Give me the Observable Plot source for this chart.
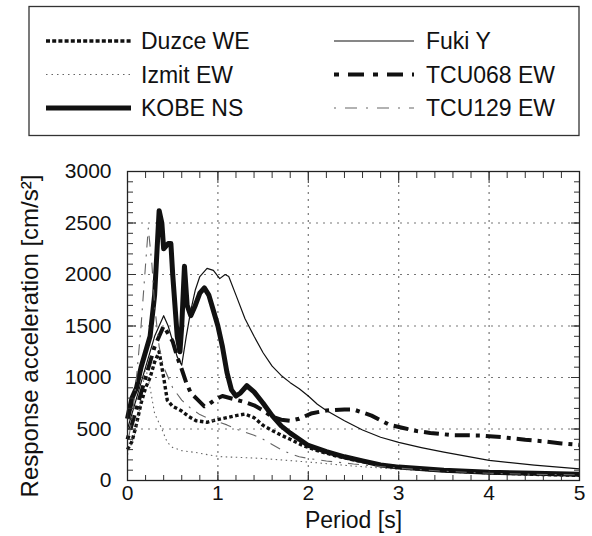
<!DOCTYPE html>
<html><head><meta charset="utf-8">
<script src="https://cdn.jsdelivr.net/npm/d3@7"></script>
<script src="https://cdn.jsdelivr.net/npm/@observablehq/plot@0.6"></script>
<style>
body{margin:0;background:#fff;}
#wrap{position:relative;width:592px;height:536px;font-family:"Liberation Sans",Arial,sans-serif;}
#legend{position:absolute;left:0;top:0;}
#chart{position:absolute;left:0;top:150px;}
</style></head><body>
<div id="wrap"><svg id="legend" width="592" height="150"></svg><div id="chart"></div></div>
<script>
// ---- data (period [s], response acceleration [cm/s2]) ----
const seriesNames = ["Duzce WE", "Izmit EW", "KOBE NS", "Fuki Y", "TCU068 EW", "TCU129 EW"];
const duzceWE = [[0,300],[0.05,380],[0.1,550],[0.15,750],[0.2,900],[0.25,1000],[0.3,1150],[0.35,1250],[0.4,1000],[0.44,780],[0.5,720],[0.59,680],[0.68,620],[0.76,580],[0.88,565],[0.99,590],[1.1,610],[1.2,630],[1.3,645],[1.4,610],[1.5,535],[1.6,485],[1.7,440],[1.8,400],[1.94,340],[2.1,290],[2.3,240],[2.5,200],[2.8,150],[3.0,130],[3.5,95],[4.0,75],[4.5,60],[5.0,50]];
const izmitEW = [[0,250],[0.1,500],[0.15,800],[0.2,1100],[0.25,900],[0.3,650],[0.37,520],[0.44,370],[0.5,320],[0.6,290],[0.77,270],[0.92,245],[1.05,230],[1.22,225],[1.47,215],[1.7,200],[2.06,175],[2.5,140],[3.0,110],[3.5,85],[4.0,70],[4.5,60],[5.0,50]];
const kobeNS = [[0,600],[0.05,800],[0.1,900],[0.15,1100],[0.2,1250],[0.25,1400],[0.3,1800],[0.35,2620],[0.38,2500],[0.4,2250],[0.45,2300],[0.48,2300],[0.5,2000],[0.55,1400],[0.58,1250],[0.6,1500],[0.63,2080],[0.66,1700],[0.7,1600],[0.75,1700],[0.8,1820],[0.85,1870],[0.9,1800],[0.95,1650],[1.0,1500],[1.05,1300],[1.1,1050],[1.15,880],[1.2,820],[1.25,850],[1.32,920],[1.4,860],[1.5,750],[1.6,630],[1.7,530],[1.8,460],[1.9,400],[2.0,340],[2.2,280],[2.4,230],[2.6,190],[2.8,150],[3.0,130],[3.5,100],[4.0,80],[4.5,70],[5.0,60]];
const fukiY = [[0,500],[0.1,800],[0.2,1100],[0.3,1400],[0.4,1600],[0.45,1500],[0.5,1350],[0.55,1200],[0.6,1120],[0.65,1400],[0.7,1650],[0.75,1850],[0.8,1980],[0.88,2060],[0.95,2040],[1.02,1960],[1.08,2000],[1.12,1980],[1.2,1800],[1.3,1570],[1.4,1400],[1.5,1240],[1.6,1110],[1.7,1020],[1.8,950],[1.9,890],[2.0,820],[2.1,740],[2.2,680],[2.4,580],[2.6,490],[2.8,420],[3.0,370],[3.25,320],[3.5,275],[4.0,195],[4.5,150],[5.0,112]];
const tcu068EW = [[0,400],[0.1,700],[0.2,1000],[0.3,1300],[0.4,1500],[0.5,1350],[0.55,1200],[0.6,1080],[0.65,950],[0.7,850],[0.77,790],[0.85,720],[0.9,740],[0.98,790],[1.05,820],[1.18,790],[1.3,760],[1.4,730],[1.5,680],[1.6,620],[1.7,590],[1.8,580],[1.9,600],[2.03,650],[2.2,680],[2.4,690],[2.5,690],[2.7,630],[2.9,540],[3.05,510],[3.2,480],[3.35,462],[3.6,440],[3.9,437],[4.15,420],[4.4,395],[4.6,380],[4.8,360],[5.0,345]];
const tcu129EW = [[0,350],[0.05,600],[0.1,1000],[0.15,1500],[0.2,2100],[0.23,2450],[0.27,2100],[0.3,1700],[0.35,1300],[0.4,1100],[0.5,900],[0.6,780],[0.7,700],[0.8,640],[0.9,600],[1.0,570],[1.1,540],[1.2,500],[1.3,470],[1.4,440],[1.5,400],[1.6,350],[1.7,300],[1.8,260],[1.9,230],[2.0,215],[2.2,190],[2.5,160],[3.0,120],[3.5,90],[4.0,70],[4.5,60],[5.0,55]];
const seriesData = [duzceWE, izmitEW, kobeNS, fukiY, tcu068EW, tcu129EW];

const xMajorTicks = [0, 1, 2, 3, 4, 5];
const yMajorTicks = [0, 500, 1000, 1500, 2000, 2500, 3000];
const xGridTicks = [1, 2, 3, 4];
const yGridTicks = [500, 1000, 1500, 2000, 2500];
const xMinorTicks = d3.range(0, 5.001, 0.2).map(v => +v.toFixed(1));
const yMinorTicks = d3.range(0, 3001, 100);
const xLabel = "Period [s]";
const yLabel = "Response acceleration [cm/s²]";

// ---- styles ----
const styles = {
  "Duzce WE":  {stroke: "#111", width: 3.4, dash: "3.5,2.5", legendDash: "4,2.2"},
  "Izmit EW":  {stroke: "#666", width: 1.1, dash: "1.5,3.5", legendDash: "1.5,4"},
  "KOBE NS":   {stroke: "#111", width: 5, dash: null, legendDash: null},
  "Fuki Y":    {stroke: "#111", width: 1.2, dash: null, legendDash: null},
  "TCU068 EW": {stroke: "#111", width: 4, dash: "4,6,15,6", legendDash: "5,9,16,9"},
  "TCU129 EW": {stroke: "#666", width: 1.1, dash: "2,7,11,7", legendDash: "2,9,12,9"}
};

// ---- legend ----
const lg = d3.select("#legend");
lg.append("rect").attr("x", 29).attr("y", 6.5).attr("width", 550).attr("height", 129)
  .attr("fill", "none").attr("stroke", "#333").attr("stroke-width", 1.3);
seriesNames.forEach((name, i) => {
  const col = Math.floor(i / 3), row = i % 3;
  const y = 41 + row * 33.5;
  const x1 = col ? 334 : 46, x2 = col ? 414 : 131, tx = col ? 426 : 141;
  const s = styles[name];
  lg.append("line").attr("x1", x1).attr("x2", x2).attr("y1", y).attr("y2", y)
    .attr("stroke", s.stroke).attr("stroke-width", s.width).attr("stroke-dasharray", s.legendDash);
  lg.append("text").attr("x", tx).attr("y", y).attr("dy", "0.36em")
    .attr("font-size", 23).attr("fill", "#111").attr("font-family", '"Liberation Sans", Arial, sans-serif')
    .text(name);
});

// ---- chart ----
const lineMarks = seriesNames.map((name, i) => {
  const s = styles[name];
  return Plot.line(seriesData[i], {x: d => d[0], y: d => d[1], stroke: s.stroke, strokeWidth: s.width,
    strokeDasharray: s.dash, strokeLinejoin: "round", strokeLinecap: "butt"});
});

const chart = Plot.plot({
  width: 592, height: 386,
  marginTop: 21, marginBottom: 56, marginLeft: 127, marginRight: 13,
  style: {fontFamily: '"Liberation Sans", Arial, sans-serif', fontSize: "21px", color: "#111", background: "white", overflow: "visible"},
  x: {domain: [0, 5], label: null},
  y: {domain: [0, 3000], label: null},
  marks: [
    Plot.ruleX(xGridTicks, {stroke: "#777", strokeWidth: 1.2, strokeDasharray: "2,5"}),
    Plot.ruleY(yGridTicks, {stroke: "#777", strokeWidth: 1.2, strokeDasharray: "2,5"}),
    ...lineMarks,
    Plot.axisX({anchor: "bottom", ticks: xMinorTicks, tickSize: -5, tickFormat: () => "", label: null, stroke: "#333"}),
    Plot.axisX({anchor: "top", ticks: xMinorTicks, tickSize: -6, tickFormat: () => "", label: null, stroke: "#333"}),
    Plot.axisX({anchor: "bottom", ticks: xMajorTicks, tickSize: -9, tickFormat: () => "", label: null, stroke: "#333"}),
    Plot.axisX({anchor: "top", ticks: xMajorTicks, tickSize: -11, tickFormat: () => "", label: null, stroke: "#333"}),
    Plot.axisY({anchor: "left", ticks: yMinorTicks, tickSize: -6, tickFormat: () => "", label: null, stroke: "#333"}),
    Plot.axisY({anchor: "right", ticks: yMinorTicks, tickSize: -6, tickFormat: () => "", label: null, stroke: "#333"}),
    Plot.axisY({anchor: "left", ticks: yMajorTicks, tickSize: -9, tickFormat: () => "", label: null, stroke: "#333"}),
    Plot.axisY({anchor: "right", ticks: yMajorTicks, tickSize: -9, tickFormat: () => "", label: null, stroke: "#333"}),
    Plot.axisX({anchor: "bottom", ticks: xMajorTicks, tickSize: 0, tickPadding: 5, tickFormat: d => String(d), label: null, fontSize: 21}),
    Plot.axisY({anchor: "left", ticks: yMajorTicks, tickSize: 0, tickPadding: 16, tickFormat: d => String(d), label: null, fontSize: 21}),
    Plot.frame({stroke: "#222", strokeWidth: 1.3}),
    Plot.text([xLabel], {text: d => d, frameAnchor: "bottom", textAnchor: "middle", dy: 47, fontSize: 23, fill: "#111"}),
    Plot.text([yLabel], {text: d => d, frameAnchor: "left", textAnchor: "middle", lineAnchor: "middle", dx: -97, dy: 10, rotate: -90, fontSize: 24, fill: "#111"})
  ]
});
document.getElementById("chart").appendChild(chart);
</script>
</body></html>
